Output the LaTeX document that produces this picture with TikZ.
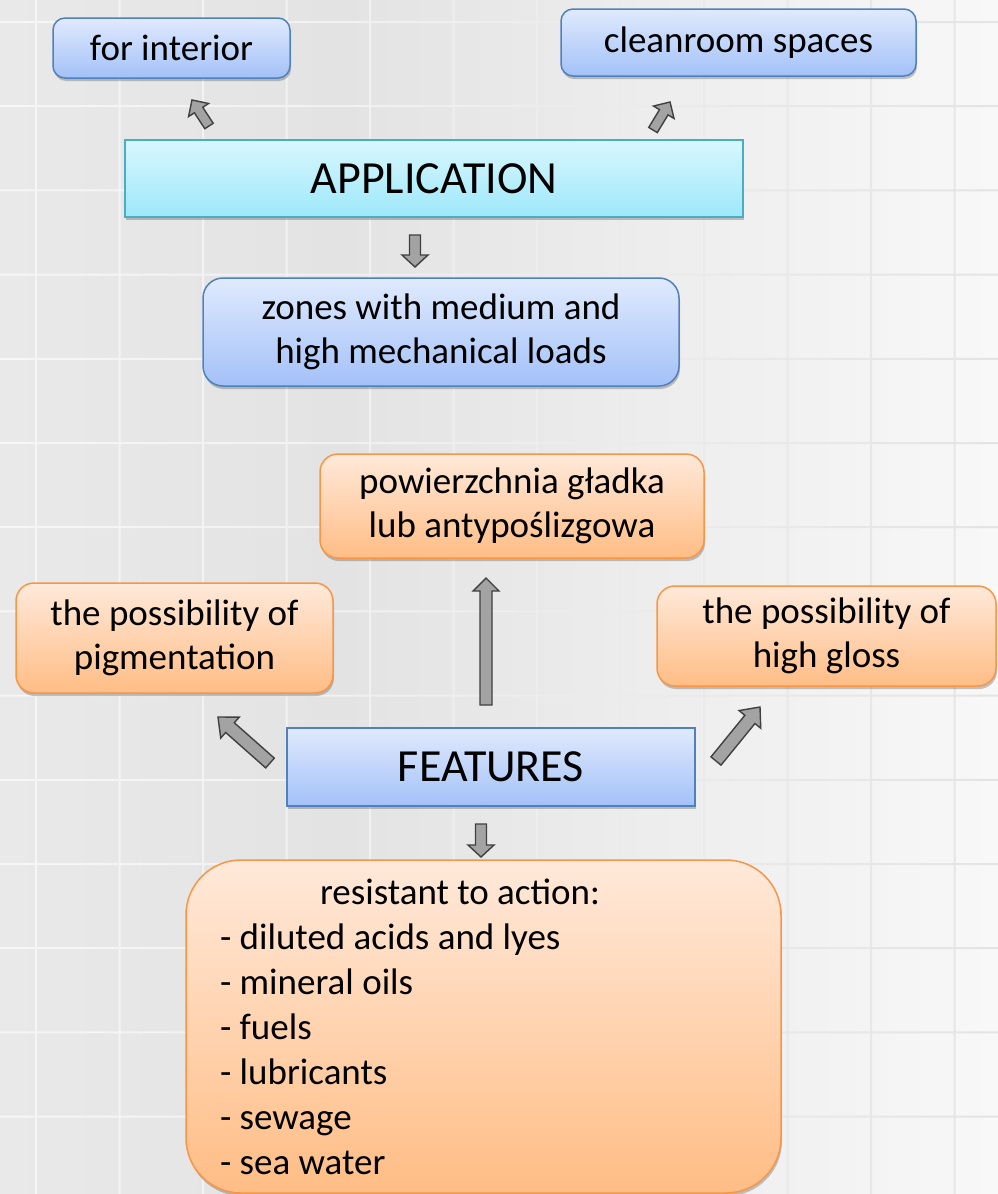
\documentclass[tikz,border=0pt]{standalone}
\usepackage{fontspec}
\setmainfont{Carlito}
\usetikzlibrary{calc,shadows}
\definecolor{bgA}{HTML}{E9E9E9}
\definecolor{bgB}{HTML}{E3E3E3}
\definecolor{bgC}{HTML}{F8F8F8}
\definecolor{grA}{HTML}{F6F6F6}
\definecolor{grB}{HTML}{F1F1F1}
\definecolor{grC}{HTML}{E4E4E4}
\definecolor{bluetop}{HTML}{E0EAFD}
\definecolor{bluebot}{HTML}{A3C1F8}
\definecolor{blueline}{HTML}{4F81BD}
\definecolor{cyantop}{HTML}{D9F7FD}
\definecolor{cyanbot}{HTML}{9DE8FB}
\definecolor{cyanline}{HTML}{4BACC6}
\definecolor{orgtop}{HTML}{FFE9DA}
\definecolor{orgbot}{HTML}{FFBD85}
\definecolor{orgline}{HTML}{F79646}
\definecolor{arrfill}{HTML}{A3A3A3}
\definecolor{arrline}{HTML}{404040}
\pgfdeclarehorizontalshading{bgsh}{100bp}{color(0bp)=(bgA); color(25bp)=(bgA); color(42bp)=(bgB); color(75bp)=(bgC); color(100bp)=(bgC)}
\pgfdeclarehorizontalshading{gridsh}{100bp}{color(0bp)=(grA); color(25bp)=(grA); color(42bp)=(grB); color(75bp)=(grC); color(100bp)=(grC)}
\newcommand{\blockarrow}[5]{%
  \coordinate (ba-c) at ($(#2)!#5!(#1)$);
  \draw[blockarr] ($(#1)!#3!90:(#2)$) -- ($(ba-c)!#3!-90:(#1)$) -- ($(ba-c)!#4!-90:(#1)$) -- (#2)
    -- ($(ba-c)!#4!90:(#1)$) -- ($(ba-c)!#3!90:(#1)$) -- ($(#1)!#3!-90:(#2)$) -- cycle;}
\tikzset{
  box/.style={draw, line width=1.5pt, inner sep=0pt, align=center, text=black,
    font=\fontsize{37}{44}\selectfont,
    drop shadow={shadow xshift=1pt, shadow yshift=-3pt, opacity=0.22, fill=black}},
  bluebox/.style={box, draw=blueline, top color=bluetop, bottom color=bluebot},
  cyanbox/.style={box, draw=cyanline, top color=cyantop, bottom color=cyanbot},
  orangebox/.style={box, draw=orgline, top color=orgtop, bottom color=orgbot},
  bigtext/.style={font=\fontsize{46}{52}\selectfont},
  blockarr/.style={draw=arrline, fill=arrfill, line width=1.4pt, line join=miter},
}
\begin{document}
\begin{tikzpicture}[x=1pt,y=-1pt]
\useasboundingbox (0,0) rectangle (998,1194);
% background
\shade[shading=bgsh] (0,0) rectangle (998,1194);
\shade[shading=gridsh]
  \foreach \i in {0,...,11} { ({36+83.5*\i-1},0) rectangle ({36+83.5*\i+1},1194) }
  \foreach \j in {0,...,13} { (0,{22+84.2*\j-1}) rectangle (998,{22+84.2*\j+1}) };

% nodes
\node[bluebox, rounded corners=12pt, minimum width=237pt, minimum height=60pt] (interior) at (171.5,48) {for interior};
\node[bluebox, rounded corners=12pt, minimum width=355pt, minimum height=67pt] (clean) at (738.5,42.5) {cleanroom spaces};
\node[cyanbox, bigtext, minimum width=618pt, minimum height=77pt] (app) at (434,178.5) {APPLICATION};
\node[bluebox, rounded corners=20pt, minimum width=476pt, minimum height=108pt] (zones) at (441,332) {zones with medium and\\high mechanical loads};
\node[orangebox, rounded corners=18pt, minimum width=384pt, minimum height=104pt] (surf) at (512,506) {powierzchnia gładka\\lub antypoślizgowa};
\node[orangebox, rounded corners=18pt, minimum width=317pt, minimum height=110pt] (pigm) at (174.5,638) {the possibility of\\pigmentation};
\node[orangebox, rounded corners=18pt, minimum width=339pt, minimum height=100pt] (gloss) at (826.5,636) {the possibility of\\high gloss};
\node[bluebox, bigtext, minimum width=408pt, minimum height=78pt] (feat) at (491,767) {FEATURES};
\node[orangebox, rounded corners=55pt, minimum width=595pt, minimum height=333pt, text width=527pt, inner xsep=34pt, align=flush left, font=\fontsize{37}{45}\selectfont] (resist) at (483.5,1026.5)
  {\hspace*{100pt}resistant to action:\\- diluted acids and lyes\\- mineral oils\\- fuels\\- lubricants\\- sewage\\- sea water};

% arrow end points
\coordinate (a1t) at (209,126); \coordinate (a1h) at (192,100);
\coordinate (a2t) at (653,130); \coordinate (a2h) at (670,102);
\coordinate (a3t) at (415,235); \coordinate (a3h) at (415,267);
\coordinate (a4t) at (486,705); \coordinate (a4h) at (486,578);
\coordinate (a5t) at (270,763); \coordinate (a5h) at (218,717);
\coordinate (a6t) at (716,761); \coordinate (a6h) at (760,707);
\coordinate (a7t) at (481,824); \coordinate (a7h) at (481,857);

\blockarrow{a1t}{a1h}{5pt}{12pt}{12pt}
\blockarrow{a2t}{a2h}{5pt}{12pt}{12pt}
\blockarrow{a3t}{a3h}{5.5pt}{13pt}{12pt}
\blockarrow{a4t}{a4h}{6pt}{13pt}{13pt}
\blockarrow{a5t}{a5h}{6.5pt}{14pt}{16pt}
\blockarrow{a6t}{a6h}{6.5pt}{14pt}{16pt}
\blockarrow{a7t}{a7h}{5.5pt}{13pt}{12pt}
\end{tikzpicture}
\end{document}
